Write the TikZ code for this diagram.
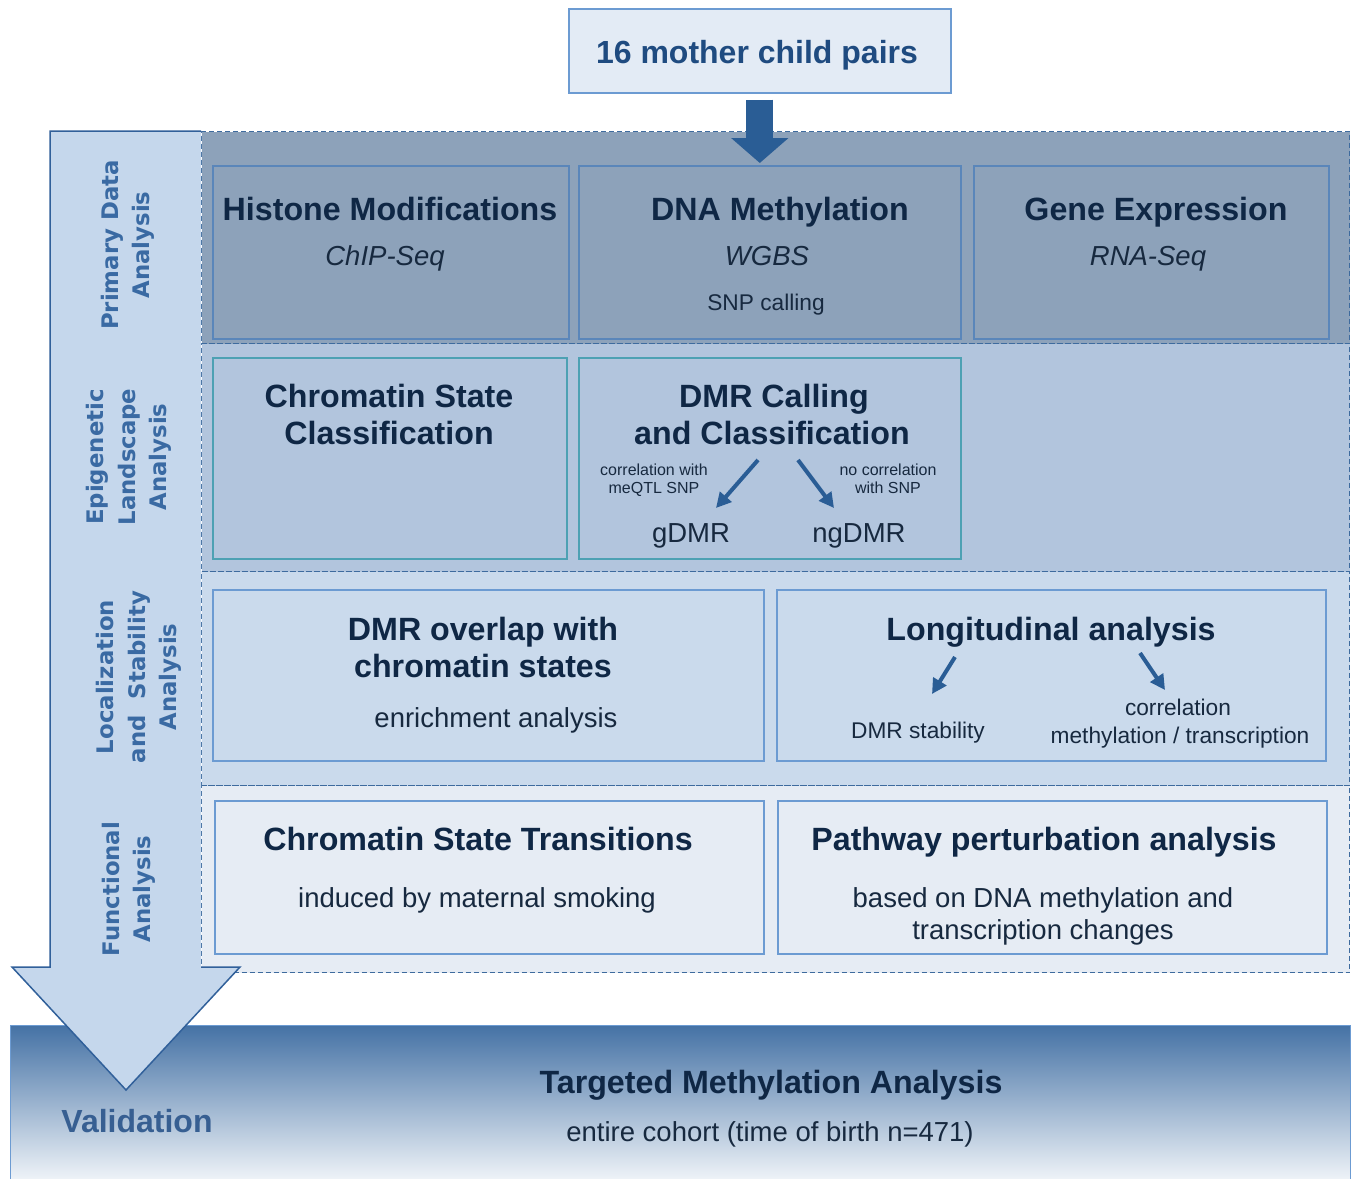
\documentclass[tikz,border=0pt]{standalone}
\usepackage{fontspec}
\setmainfont{Liberation Sans}
\newfontfamily\sidefont{DejaVu Sans}
\usepackage{tikz}
\usetikzlibrary{arrows.meta}

\definecolor{darknavy}{HTML}{0F2745}
\definecolor{textnavy}{HTML}{17293F}
\definecolor{pairblue}{HTML}{1F4B80}
\definecolor{sideblue}{HTML}{3A6AA3}
\definecolor{arrowfill}{HTML}{C5D7EC}
\definecolor{arrowline}{HTML}{31609A}
\definecolor{rowone}{HTML}{8DA2BA}
\definecolor{rowtwo}{HTML}{B2C5DD}
\definecolor{rowthree}{HTML}{CADAEC}
\definecolor{rowfour}{HTML}{E6ECF4}
\definecolor{dashline}{HTML}{3E6B9E}
\definecolor{boxline}{HTML}{5A86BA}
\definecolor{tealline}{HTML}{4DA1B3}
\definecolor{lightline}{HTML}{6C9BD2}
\definecolor{pairfill}{HTML}{E3EBF5}
\definecolor{darkarrow}{HTML}{2A5D95}
\definecolor{valtop}{HTML}{4572A5}
\definecolor{valbottom}{HTML}{F5F8FB}
\definecolor{valtext}{HTML}{375F92}

\begin{document}
\begin{tikzpicture}[x=1pt,y=-1pt,>=Stealth,
	bandrow/.style={draw=dashline,dash pattern=on 5pt off 3pt,line width=1pt,inner sep=0pt,anchor=north west},
	boxrect/.style={draw=#1,line width=1.6pt,inner sep=0pt,anchor=north west},
	headtxt/.style={anchor=base,text=darknavy,font=\fontsize{32.2}{38}\selectfont\bfseries},
	bodytxt/.style={anchor=base,text=textnavy,font=\fontsize{27.5}{32}\selectfont},
	smalltxt/.style={anchor=base,text=textnavy,font=\fontsize{22.7}{27}\selectfont},
	tinytxt/.style={anchor=base,text=textnavy,font=\fontsize{16}{19}\selectfont},
	sidetxt/.style={rotate=90,text=sideblue,align=center,font=\sidefont\fontsize{22.8}{31.5}\selectfont\bfseries},
	linkarrow/.style={draw=darkarrow,line width=4pt,-{Triangle[length=15pt,width=15pt]}}]

	\useasboundingbox (0,0) rectangle (1354,1178);

	% analysis bands
	\node[bandrow,fill=rowone,minimum width=1148pt,minimum height=212pt] (primary) at (201,131) {};
	\node[bandrow,fill=rowtwo,minimum width=1148pt,minimum height=228pt] (epigen) at (201,343) {};
	\node[bandrow,fill=rowthree,minimum width=1148pt,minimum height=214pt] (local) at (201,571) {};
	\node[bandrow,fill=rowfour,minimum width=1148pt,minimum height=187pt] (funct) at (201,785) {};

	% validation
	\node[anchor=north west,inner sep=0pt,draw=lightline,line width=1.2pt,top color=valtop,bottom color=valbottom,
		minimum width=1340pt,minimum height=160pt] (valid) at (10,1025) {};

	% big arrow on the left
	\fill[arrowfill] (50,131) -- (201,131) -- (201,967) -- (240,967) -- (126,1090) -- (12,967) -- (50,967) -- cycle;
	\draw[arrowline,line width=1.5pt,line join=miter] (201,131) -- (50,131) -- (50,967) -- (12,967) -- (126,1090) -- (240,967) -- (201,967);

	\node[sidetxt] at (128,245) {Primary Data\\Analysis};
	\node[sidetxt] at (129,457) {Epigenetic\\Landscape\\Analysis};
	\node[sidetxt] at (139,677) {Localization\\and\ \ Stability\\Analysis};
	\node[sidetxt] at (129,889) {Functional\\Analysis};
	\node[anchor=base,text=valtext,font=\fontsize{32}{38}\selectfont\bfseries] at (137,1132) {Validation};

	% input
	\node[boxrect=lightline,fill=pairfill,minimum width=382pt,minimum height=84pt,
		text=pairblue,font=\fontsize{32}{38}\selectfont\bfseries] (pairs) at (568,8) {};
	\node[anchor=base,text=pairblue,font=\fontsize{32}{38}\selectfont\bfseries] at (757,63) {16 mother child pairs};

	% primary data
	\node[boxrect=boxline,fill=rowone,minimum width=356pt,minimum height=173pt] (histone) at (212,165) {};
	\node[boxrect=boxline,fill=rowone,minimum width=382pt,minimum height=173pt] (dna) at (578,165) {};
	\node[boxrect=boxline,fill=rowone,minimum width=355pt,minimum height=173pt] (gene) at (973,165) {};

	\draw[draw=darkarrow,line width=27pt,-{Triangle[length=25pt,width=56pt]},shorten <=6pt,shorten >=2pt]
		(pairs.south) -- (pairs.south |- dna.north);

	\node[headtxt] at (390,220) {Histone Modifications};
	\node[bodytxt,font=\fontsize{27.5}{32}\selectfont\itshape] at (385,265) {ChIP-Seq};
	\node[headtxt] at (780,220) {DNA Methylation};
	\node[bodytxt,font=\fontsize{27.5}{32}\selectfont\itshape] at (767,265) {WGBS};
	\node[smalltxt] at (766,310) {SNP calling};
	\node[headtxt] at (1156,220) {Gene Expression};
	\node[bodytxt,font=\fontsize{27.5}{32}\selectfont\itshape] at (1148,265) {RNA-Seq};

	% epigenetic landscape
	\node[boxrect=tealline,fill=rowtwo,minimum width=354pt,minimum height=201pt] (chrom) at (212,357) {};
	\node[boxrect=tealline,fill=rowtwo,minimum width=382pt,minimum height=201pt] (dmr) at (578,357) {};

	\node[headtxt] at (389,407) {Chromatin State};
	\node[headtxt] at (389,444) {Classification};
	\node[headtxt] at (774,407) {DMR Calling};
	\node[headtxt] at (772,444) {and Classification};

	\node[tinytxt] at (654,475) {correlation with};
	\node[tinytxt] at (654,493) {meQTL SNP};
	\node[tinytxt] at (888,475) {no correlation};
	\node[tinytxt] at (888,493) {with SNP};

	\node[bodytxt] (gdmr) at (691,542) {gDMR};
	\node[bodytxt] (ngdmr) at (859,542) {ngDMR};
	\coordinate (gfrom) at (758,460);
	\coordinate (gto) at (716,508);
	\coordinate (ngfrom) at (798,460);
	\coordinate (ngto) at (834,508);
	\draw[linkarrow] (gfrom) -- (gto);
	\draw[linkarrow] (ngfrom) -- (ngto);

	% localization and stability
	\node[boxrect=lightline,fill=rowthree,minimum width=551pt,minimum height=171pt] (overlap) at (212,589) {};
	\node[boxrect=lightline,fill=rowthree,minimum width=549pt,minimum height=171pt] (longit) at (776,589) {};

	\node[headtxt] at (483,640) {DMR overlap with};
	\node[headtxt] at (483,677) {chromatin states};
	\node[bodytxt] at (496,727) {enrichment analysis};

	\node[headtxt] at (1051,640) {Longitudinal analysis};
	\node[smalltxt] (stab) at (918,738) {DMR stability};
	\node[smalltxt] at (1178,715) {correlation};
	\node[smalltxt] (corr) at (1180,743) {methylation / transcription};
	\coordinate (sfrom) at (955,657);
	\coordinate (sto) at (932,694);
	\coordinate (cfrom) at (1140,653);
	\coordinate (cto) at (1165,690);
	\draw[linkarrow] (sfrom) -- (sto);
	\draw[linkarrow] (cfrom) -- (cto);

	% functional
	\node[boxrect=lightline,fill=rowfour,minimum width=549pt,minimum height=153pt] (transit) at (214,800) {};
	\node[boxrect=lightline,fill=rowfour,minimum width=549pt,minimum height=153pt] (pathway) at (777,800) {};

	\node[headtxt] at (478,850) {Chromatin State Transitions};
	\node[bodytxt] at (477,907) {induced by maternal smoking};
	\node[headtxt] at (1044,850) {Pathway perturbation analysis};
	\node[bodytxt] at (1043,907) {based on DNA methylation and};
	\node[bodytxt] at (1043,939) {transcription changes};

	% targeted
	\node[headtxt] at (771,1093) {Targeted Methylation Analysis};
	\node[bodytxt] at (770,1141) {entire cohort (time of birth n=471)};

\end{tikzpicture}
\end{document}
